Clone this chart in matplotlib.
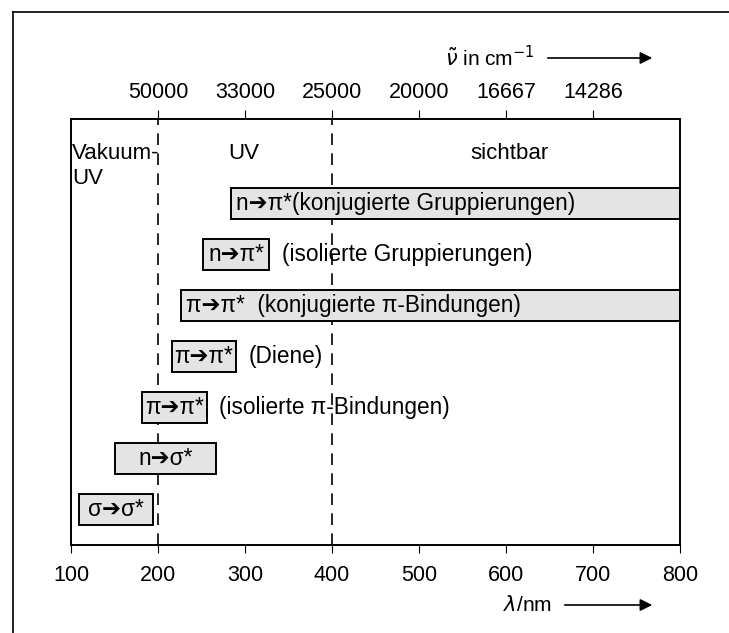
import matplotlib.pyplot as plt
from matplotlib.patches import Rectangle

plt.rcParams['font.family'] = ['Liberation Sans', 'DejaVu Sans']

# Übergänge (von unten nach oben): Start- und End-Wellenlänge in nm
boxtext = ['σ➔σ*', 'n➔σ*', 'π➔π*', 'π➔π*', 'π➔π*  (konjugierte π-Bindungen)',
           'n➔π*', 'n➔π*(konjugierte Gruppierungen)']
nebentext = ['', '', '(isolierte π-Bindungen)', '(Diene)', '', '(isolierte Gruppierungen)', '']
lam_start = [109, 151, 182, 216, 226, 252, 284]
lam_end = [194, 267, 256, 290, 800, 328, 800]

lam_ticks = [100, 200, 300, 400, 500, 600, 700, 800]
nu_ticks = [200, 300, 400, 500, 600, 700]
nu_labels = ['50000', '33000', '25000', '20000', '16667', '14286']
grenzen = [200, 400]

fig = plt.figure(figsize=(7.29, 6.33), dpi=100)
ax = fig.add_axes([71/729, 1-545/633, (680-71)/729, (545-119)/633])
ax.set_xlim(100, 800)
ax.set_ylim(-0.7, 7.65)

h = 0.61
fs = 16.3
for i in range(len(boxtext)):
    ax.add_patch(Rectangle((lam_start[i], i-h/2), lam_end[i]-lam_start[i], h,
                           facecolor='#e4e4e4', edgecolor='black', lw=1.4, zorder=3))
    if lam_end[i] == 800:
        ax.text(lam_start[i]+6, i, boxtext[i], ha='left', va='center',
                fontsize=fs, zorder=4)
    else:
        ax.text((lam_start[i]+lam_end[i])/2, i, boxtext[i], ha='center', va='center',
                fontsize=fs, zorder=4)
    if nebentext[i]:
        ax.text(lam_end[i]+14, i, nebentext[i], ha='left', va='center', fontsize=fs)

for g in grenzen:
    ax.axvline(g, color='black', lw=1.2, dashes=(7, 5), zorder=2)

ax.text(101, 6.98, 'Vakuum-', ha='left', va='center', fontsize=16)
ax.text(101, 6.48, 'UV', ha='left', va='center', fontsize=16)
ax.text(298, 6.98, 'UV', ha='center', va='center', fontsize=16)
ax.text(604, 6.98, 'sichtbar', ha='center', va='center', fontsize=16)

ax.set_yticks([])
ax.set_xticks(lam_ticks)
ax.tick_params(axis='x', direction='out', length=6, labelsize=15.5, pad=8.5)

top = ax.twiny()
top.set_xlim(100, 800)
top.set_xticks(nu_ticks)
top.set_xticklabels(nu_labels)
top.tick_params(axis='x', direction='out', length=6.5, labelsize=15.5, pad=5)

for a in (ax, top):
    for s in a.spines.values():
        s.set_linewidth(1.2)

# Achsenbeschriftungen mit Pfeilen
fig.text(535/729, 1-58/633, r'$\tilde{\nu}$ in cm$^{-1}$', ha='right', va='center', fontsize=15)
fig.text(552/729, 1-605/633, r'$\lambda$/nm', ha='right', va='center', fontsize=15)
for x0, yy in ((545, 58), (562, 605)):
    ax.annotate('', xy=(655/729, 1-yy/633), xytext=(x0/729, 1-yy/633),
                xycoords='figure fraction', textcoords='figure fraction',
                arrowprops=dict(arrowstyle='-|>', color='black', lw=1.2, mutation_scale=18))

# äußerer Rahmen
fig.add_artist(plt.Line2D([13/729, 13/729], [0, 1-12/633], color='black', lw=1.2))
fig.add_artist(plt.Line2D([13/729, 1], [1-12/633, 1-12/633], color='black', lw=1.2))

plt.savefig('out.png', dpi=100)
